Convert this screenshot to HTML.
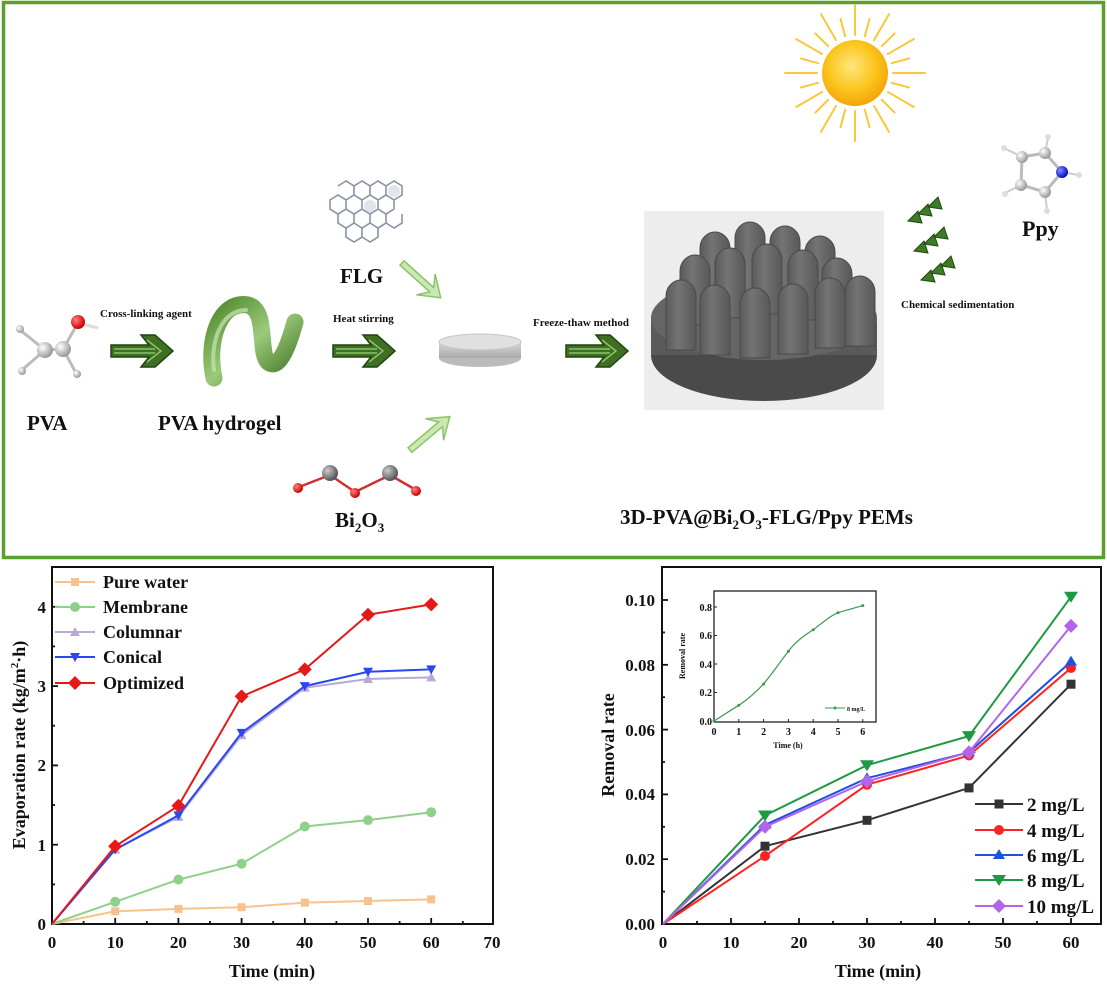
<!DOCTYPE html>
<html><head><meta charset="utf-8"><style>
html,body{margin:0;padding:0;background:#fff;}
svg{display:block;}
text{font-family:"Liberation Serif",serif;font-weight:bold;fill:#111;}
</style></head><body>
<svg width="1107" height="986" viewBox="0 0 1107 986" xmlns="http://www.w3.org/2000/svg">
<defs>
<radialGradient id="sun" cx="45%" cy="40%" r="60%"><stop offset="0" stop-color="#ffe680"/><stop offset="0.6" stop-color="#fbc51c"/><stop offset="1" stop-color="#f4a40c"/></radialGradient>
<radialGradient id="ball" cx="35%" cy="35%" r="65%"><stop offset="0" stop-color="#fff"/><stop offset="1" stop-color="#9a9a9a"/></radialGradient>
<radialGradient id="dball" cx="35%" cy="35%" r="65%"><stop offset="0" stop-color="#ccc"/><stop offset="1" stop-color="#555"/></radialGradient>
<radialGradient id="rball" cx="35%" cy="35%" r="65%"><stop offset="0" stop-color="#ff8080"/><stop offset="1" stop-color="#c00"/></radialGradient>
<radialGradient id="bball" cx="35%" cy="35%" r="65%"><stop offset="0" stop-color="#88f"/><stop offset="1" stop-color="#0010c0"/></radialGradient>
<linearGradient id="tube" x1="0" y1="0" x2="1" y2="1"><stop offset="0" stop-color="#4f8a2e"/><stop offset="0.5" stop-color="#9cc97a"/><stop offset="1" stop-color="#3f7522"/></linearGradient>
<linearGradient id="disc" x1="0" y1="0" x2="0" y2="1"><stop offset="0" stop-color="#d8d8d8"/><stop offset="1" stop-color="#aaa"/></linearGradient>
<linearGradient id="pil" x1="0" y1="0" x2="1" y2="0"><stop offset="0" stop-color="#5a5a5a"/><stop offset="0.4" stop-color="#747474"/><stop offset="1" stop-color="#585858"/></linearGradient>
<g id="garrow"><path d="M0,-6 L38,-6 L30,-16 L44,-16 L62,0 L44,16 L30,16 L38,6 L0,6 Z" fill="#3e6f22" stroke="#1f4510" stroke-width="1.5"/><path d="M3,-2 L44,-2 M3,2 L44,2 M36,-11 L50,0 L36,11" stroke="#8cc26a" stroke-width="1.5" fill="none"/></g>
<g id="larrow"><path d="M0,-3 L40,-3 L32,-14 L52,0 L32,14 L40,3 L0,3 Z" fill="#c9e8b4" stroke="#8cc26a" stroke-width="1.5"/></g>
<g id="tri"><polygon points="0,0 10,-10 14,2" fill="#3e7a28" stroke="#1f4a10" stroke-width="1"/></g>
<path id="pillar" d="M0,70 L0,16 A15,16 0 0 1 30,16 L30,70 Z" fill="url(#pil)" stroke="#4a4a4a" stroke-width="1"/>
<marker id="mSqO" markerUnits="userSpaceOnUse" markerWidth="12" markerHeight="12" refX="6" refY="6"><rect x="2" y="2" width="8" height="8" fill="#f7c38a"/></marker>
<marker id="mCiG" markerUnits="userSpaceOnUse" markerWidth="12" markerHeight="12" refX="6" refY="6"><circle cx="6" cy="6" r="5" fill="#8fd18a"/></marker>
<marker id="mTuP" markerUnits="userSpaceOnUse" markerWidth="12" markerHeight="12" refX="6" refY="6"><polygon points="6,1 11,10 1,10" fill="#b9a9d6"/></marker>
<marker id="mTdB" markerUnits="userSpaceOnUse" markerWidth="12" markerHeight="12" refX="6" refY="6"><polygon points="1,2 11,2 6,11" fill="#2b47f0"/></marker>
<marker id="mDiR" markerUnits="userSpaceOnUse" markerWidth="14" markerHeight="14" refX="7" refY="7"><polygon points="7,0 14,7 7,14 0,7" fill="#e61919"/></marker>
<marker id="mSqK" markerUnits="userSpaceOnUse" markerWidth="12" markerHeight="12" refX="6" refY="6"><rect x="1.5" y="1.5" width="9" height="9" fill="#333"/></marker>
<marker id="mCiR" markerUnits="userSpaceOnUse" markerWidth="12" markerHeight="12" refX="6" refY="6"><circle cx="6" cy="6" r="5" fill="#f22"/></marker>
<marker id="mTuB" markerUnits="userSpaceOnUse" markerWidth="12" markerHeight="12" refX="6" refY="6"><polygon points="6,0 12,10 0,10" fill="#2050e0"/></marker>
<marker id="mTdG" markerUnits="userSpaceOnUse" markerWidth="14" markerHeight="14" refX="7" refY="6"><polygon points="0,1 14,1 7,12" fill="#1e9a45"/></marker>
<marker id="mDiP" markerUnits="userSpaceOnUse" markerWidth="14" markerHeight="14" refX="7" refY="7"><polygon points="7,0 14,7 7,14 0,7" fill="#b265e8"/></marker>
<marker id="mDot" markerUnits="userSpaceOnUse" markerWidth="4" markerHeight="4" refX="2" refY="2"><circle cx="2" cy="2" r="1.5" fill="#3a9a50"/></marker>
</defs>

<rect x="3.5" y="2.5" width="1100" height="555" fill="none" stroke="#5aa02c" stroke-width="3.5"/>

<!-- sun -->
<g transform="translate(855,73)">
<g stroke="#f9c83a" stroke-width="2" stroke-linecap="round">
<line x1="0" y1="-38" x2="0" y2="-68" transform="rotate(0)"/><line x1="0" y1="-38" x2="0" y2="-56" transform="rotate(15)"/>
<line x1="0" y1="-38" x2="0" y2="-68" transform="rotate(30)"/><line x1="0" y1="-38" x2="0" y2="-56" transform="rotate(45)"/>
<line x1="0" y1="-38" x2="0" y2="-68" transform="rotate(60)"/><line x1="0" y1="-38" x2="0" y2="-56" transform="rotate(75)"/>
<line x1="0" y1="-38" x2="0" y2="-70" transform="rotate(90)"/><line x1="0" y1="-38" x2="0" y2="-56" transform="rotate(105)"/>
<line x1="0" y1="-38" x2="0" y2="-68" transform="rotate(120)"/><line x1="0" y1="-38" x2="0" y2="-56" transform="rotate(135)"/>
<line x1="0" y1="-38" x2="0" y2="-68" transform="rotate(150)"/><line x1="0" y1="-38" x2="0" y2="-56" transform="rotate(165)"/>
<line x1="0" y1="-38" x2="0" y2="-68" transform="rotate(180)"/><line x1="0" y1="-38" x2="0" y2="-56" transform="rotate(195)"/>
<line x1="0" y1="-38" x2="0" y2="-68" transform="rotate(210)"/><line x1="0" y1="-38" x2="0" y2="-56" transform="rotate(225)"/>
<line x1="0" y1="-38" x2="0" y2="-68" transform="rotate(240)"/><line x1="0" y1="-38" x2="0" y2="-56" transform="rotate(255)"/>
<line x1="0" y1="-38" x2="0" y2="-70" transform="rotate(270)"/><line x1="0" y1="-38" x2="0" y2="-56" transform="rotate(285)"/>
<line x1="0" y1="-38" x2="0" y2="-68" transform="rotate(300)"/><line x1="0" y1="-38" x2="0" y2="-56" transform="rotate(315)"/>
<line x1="0" y1="-38" x2="0" y2="-68" transform="rotate(330)"/><line x1="0" y1="-38" x2="0" y2="-56" transform="rotate(345)"/>
</g>
<circle r="33" fill="url(#sun)"/>
</g>

<!-- PVA molecule -->
<g stroke="#bbb" stroke-width="3">
<line x1="45" y1="350" x2="63" y2="349"/><line x1="45" y1="350" x2="20" y2="330"/><line x1="45" y1="350" x2="22" y2="370"/>
<line x1="63" y1="349" x2="78" y2="323"/><line x1="63" y1="349" x2="76" y2="373"/><line x1="78" y1="323" x2="98" y2="328" stroke="#ddd"/>
</g>
<circle cx="20" cy="329" r="4" fill="url(#ball)"/><circle cx="22" cy="371" r="4" fill="url(#ball)"/><circle cx="77" cy="374" r="4" fill="url(#ball)"/>
<circle cx="45" cy="350" r="8" fill="url(#ball)"/><circle cx="63" cy="349" r="8" fill="url(#ball)"/>
<circle cx="78" cy="322" r="7" fill="url(#rball)"/>
<text x="100" y="317" font-size="11">Cross-linking agent</text>
<use href="#garrow" x="111" y="351"/>
<path d="M214,378 C206,340 220,300 248,305 C268,310 258,352 268,362 C280,372 290,340 295,322" fill="none" stroke="url(#tube)" stroke-width="17" stroke-linecap="round"/>
<path d="M214,370 C210,340 222,310 246,310" fill="none" stroke="#c8e6b0" stroke-width="4" stroke-linecap="round" opacity="0.7"/>
<text x="27" y="430" font-size="21">PVA</text>
<text x="158" y="430" font-size="21">PVA hydrogel</text>

<!-- FLG -->
<g fill="none" stroke="#8a93a5" stroke-width="1.6">
<path d="M330,200 l8,-5 l8,5 l0,9 l-8,5 l-8,-5 Z M346,200 l8,-5 l8,5 l0,9 l-8,5 l-8,-5 Z M362,200 l8,-5 l8,5 l0,9 l-8,5 l-8,-5 Z M378,200 l8,-5 l8,5 l0,9 l-8,5 l-8,-5 Z"/>
<path d="M338,186 l8,-5 l8,5 l0,9 M354,186 l8,-5 l8,5 l0,9 M370,186 l8,-5 l8,5 l0,9 M386,186 l8,-5 l8,5 l0,9 l-8,5"/>
<path d="M338,214 l0,9 l8,5 l8,-5 l0,-9 M354,223 l8,5 l8,-5 l0,-9 M370,223 l8,5 l8,-5 l0,-9 M386,223 l8,5 l8,-5 l0,-9"/>
<path d="M346,228 l0,9 l8,5 l8,-5 l0,-9 M362,237 l8,5 l8,-5 l0,-9"/>
</g>
<circle cx="370" cy="206" r="6" fill="#e2e4ea"/><circle cx="394" cy="191" r="6" fill="#e2e4ea"/>
<text x="340" y="283" font-size="21">FLG</text>
<use href="#larrow" transform="translate(402,263) rotate(42)"/>
<text x="333" y="322" font-size="11">Heat stirring</text>
<use href="#garrow" x="333" y="351"/>
<ellipse cx="480" cy="358" rx="41" ry="9" fill="#bbb"/>
<rect x="439" y="342" width="82" height="16" fill="url(#disc)"/>
<ellipse cx="480" cy="342" rx="41" ry="8" fill="#e0e0e0" stroke="#c4c4c4"/>
<use href="#larrow" transform="translate(410,450) rotate(-40)"/>
<g stroke="#d03030" stroke-width="2.5"><line x1="299" y1="487" x2="330" y2="475"/><line x1="330" y1="475" x2="355" y2="492"/><line x1="355" y1="492" x2="390" y2="475"/><line x1="390" y1="475" x2="416" y2="490"/></g>
<circle cx="298" cy="488" r="5" fill="url(#rball)"/><circle cx="355" cy="493" r="5" fill="url(#rball)"/><circle cx="416" cy="491" r="5" fill="url(#rball)"/>
<circle cx="330" cy="473" r="8" fill="url(#dball)"/><circle cx="390" cy="473" r="8" fill="url(#dball)"/>
<text x="335" y="527" font-size="21">Bi<tspan font-size="13" dy="5">2</tspan><tspan dy="-5">O</tspan><tspan font-size="13" dy="5">3</tspan></text>

<text x="533" y="326" font-size="11">Freeze-thaw method</text>
<use href="#garrow" x="566" y="351"/>

<!-- 3D object -->
<rect x="644" y="211" width="240" height="199" fill="#ededed"/>
<ellipse cx="764" cy="355" rx="113" ry="46" fill="#4a4a4a"/>
<rect x="651" y="318" width="226" height="37" fill="#5a5a5a"/>
<ellipse cx="764" cy="318" rx="113" ry="42" fill="#656565"/>
<use href="#pillar" x="700" y="232"/><use href="#pillar" x="735" y="222"/><use href="#pillar" x="770" y="226"/><use href="#pillar" x="805" y="236"/>
<use href="#pillar" x="680" y="255"/><use href="#pillar" x="715" y="248"/><use href="#pillar" x="752" y="244"/><use href="#pillar" x="788" y="250"/><use href="#pillar" x="822" y="258"/>
<use href="#pillar" x="666" y="280"/><use href="#pillar" x="700" y="285"/><use href="#pillar" x="740" y="288"/><use href="#pillar" x="778" y="284"/><use href="#pillar" x="815" y="278"/><use href="#pillar" x="845" y="276"/>

<use href="#tri" x="908" y="221"/><use href="#tri" x="918" y="214"/><use href="#tri" x="928" y="207"/>
<use href="#tri" x="914" y="251"/><use href="#tri" x="924" y="244"/><use href="#tri" x="934" y="237"/>
<use href="#tri" x="921" y="280"/><use href="#tri" x="931" y="273"/><use href="#tri" x="941" y="266"/>
<text x="901" y="308" font-size="11">Chemical sedimentation</text>
<g stroke="#bbb" stroke-width="3" fill="none"><path d="M1022,157 L1045,153 L1062,172 L1045,192 L1021,185 Z"/></g>
<g stroke="#ccc" stroke-width="2"><line x1="1022" y1="157" x2="1004" y2="148"/><line x1="1045" y1="153" x2="1048" y2="138"/><line x1="1021" y1="185" x2="1005" y2="193"/><line x1="1045" y1="192" x2="1047" y2="210"/><line x1="1062" y1="172" x2="1078" y2="175"/></g>
<circle cx="1022" cy="157" r="6" fill="url(#ball)"/><circle cx="1045" cy="153" r="6" fill="url(#ball)"/><circle cx="1021" cy="185" r="6" fill="url(#ball)"/><circle cx="1045" cy="192" r="6" fill="url(#ball)"/>
<circle cx="1062" cy="172" r="6" fill="url(#bball)"/>
<circle cx="1004" cy="148" r="3" fill="#ddd"/><circle cx="1048" cy="137" r="3" fill="#ddd"/><circle cx="1005" cy="194" r="3" fill="#ddd"/><circle cx="1047" cy="211" r="3" fill="#ddd"/><circle cx="1079" cy="175" r="3" fill="#ddd"/>
<text x="1022" y="236" font-size="22">Ppy</text>
<text x="620" y="524" font-size="21">3D-PVA@Bi<tspan font-size="13" dy="5">2</tspan><tspan dy="-5">O</tspan><tspan font-size="13" dy="5">3</tspan><tspan dy="-5">-FLG/Ppy PEMs</tspan></text>

<!-- LEFT CHART -->
<rect x="52" y="567" width="441" height="357" fill="none" stroke="#111" stroke-width="2"/>
<g stroke="#111" stroke-width="1.8">
<line x1="52" y1="924" x2="52" y2="918"/><line x1="115.2" y1="924" x2="115.2" y2="918"/><line x1="178.4" y1="924" x2="178.4" y2="918"/><line x1="241.6" y1="924" x2="241.6" y2="918"/><line x1="304.8" y1="924" x2="304.8" y2="918"/><line x1="368" y1="924" x2="368" y2="918"/><line x1="431.2" y1="924" x2="431.2" y2="918"/>
<line x1="83.6" y1="924" x2="83.6" y2="921"/><line x1="146.8" y1="924" x2="146.8" y2="921"/><line x1="210" y1="924" x2="210" y2="921"/><line x1="273.2" y1="924" x2="273.2" y2="921"/><line x1="336.4" y1="924" x2="336.4" y2="921"/><line x1="399.6" y1="924" x2="399.6" y2="921"/><line x1="462.8" y1="924" x2="462.8" y2="921"/>
<line x1="52" y1="844.7" x2="58" y2="844.7"/><line x1="52" y1="765.4" x2="58" y2="765.4"/><line x1="52" y1="686.1" x2="58" y2="686.1"/><line x1="52" y1="606.8" x2="58" y2="606.8"/>
<line x1="52" y1="884.4" x2="55" y2="884.4"/><line x1="52" y1="805" x2="55" y2="805"/><line x1="52" y1="725.7" x2="55" y2="725.7"/><line x1="52" y1="646.4" x2="55" y2="646.4"/>
</g>
<g font-size="17" text-anchor="middle">
<text x="52" y="948">0</text><text x="115.2" y="948">10</text><text x="178.4" y="948">20</text><text x="241.6" y="948">30</text><text x="304.8" y="948">40</text><text x="368" y="948">50</text><text x="431.2" y="948">60</text><text x="492" y="948">70</text>
</g>
<g font-size="17" text-anchor="end">
<text x="46" y="930">0</text><text x="46" y="851">1</text><text x="46" y="771">2</text><text x="46" y="692">3</text><text x="46" y="613">4</text>
</g>
<text x="272" y="977" font-size="18" text-anchor="middle">Time (min)</text>
<text transform="translate(25,745) rotate(-90)" font-size="18" text-anchor="middle">Evaporation rate (kg/m<tspan font-size="11" dy="-7">2</tspan><tspan dy="7">·h)</tspan></text>
<g fill="none" stroke-width="2">
<polyline stroke="#f7c38a" marker-mid="url(#mSqO)" marker-end="url(#mSqO)" points="52,924 115.2,911.3 178.4,908.9 241.6,907.3 304.8,902.6 368,901 431.2,899.4"/>
<polyline stroke="#8fd18a" marker-mid="url(#mCiG)" marker-end="url(#mCiG)" points="52,924 115.2,901.8 178.4,879.6 241.6,863.7 304.8,826.5 368,820.1 431.2,812.2"/>
<polyline stroke="#b9a9d6" marker-mid="url(#mTuP)" marker-end="url(#mTuP)" points="52,924 115.2,849.5 178.4,816.9 241.6,735.3 304.8,687.7 368,679 431.2,677.4"/>
<polyline stroke="#2b47f0" marker-mid="url(#mTdB)" marker-end="url(#mTdB)" points="52,924 115.2,849.5 178.4,815.4 241.6,732.9 304.8,686.1 368,671.8 431.2,669.4"/>
<polyline stroke="#e61919" marker-mid="url(#mDiR)" marker-end="url(#mDiR)" points="52,924 115.2,846.3 178.4,805.8 241.6,696.4 304.8,669.4 368,614.7 431.2,604.4"/>
<polyline stroke="#f7c38a" marker-mid="url(#mSqO)" points="55,582 75,582 95,582"/>
<polyline stroke="#8fd18a" marker-mid="url(#mCiG)" points="55,607 75,607 95,607"/>
<polyline stroke="#b9a9d6" marker-mid="url(#mTuP)" points="55,632 75,632 95,632"/>
<polyline stroke="#2b47f0" marker-mid="url(#mTdB)" points="55,657 75,657 95,657"/>
<polyline stroke="#e61919" marker-mid="url(#mDiR)" points="55,683 75,683 95,683"/>
</g>
<g font-size="18">
<text x="103" y="588">Pure water</text><text x="103" y="613">Membrane</text><text x="103" y="638">Columnar</text><text x="103" y="663">Conical</text><text x="103" y="689">Optimized</text>
</g>

<!-- RIGHT CHART -->
<rect x="662" y="567" width="439" height="357" fill="none" stroke="#111" stroke-width="2"/>
<g stroke="#111" stroke-width="1.8">
<line x1="731" y1="924" x2="731" y2="918"/><line x1="799" y1="924" x2="799" y2="918"/><line x1="867" y1="924" x2="867" y2="918"/><line x1="935" y1="924" x2="935" y2="918"/><line x1="1003" y1="924" x2="1003" y2="918"/><line x1="1071" y1="924" x2="1071" y2="918"/>
<line x1="697" y1="924" x2="697" y2="921"/><line x1="765" y1="924" x2="765" y2="921"/><line x1="833" y1="924" x2="833" y2="921"/><line x1="901" y1="924" x2="901" y2="921"/><line x1="969" y1="924" x2="969" y2="921"/><line x1="1037" y1="924" x2="1037" y2="921"/>
<line x1="662" y1="859.2" x2="668" y2="859.2"/><line x1="662" y1="794.4" x2="668" y2="794.4"/><line x1="662" y1="729.6" x2="668" y2="729.6"/><line x1="662" y1="664.8" x2="668" y2="664.8"/><line x1="662" y1="600" x2="668" y2="600"/>
<line x1="662" y1="891.6" x2="665" y2="891.6"/><line x1="662" y1="826.8" x2="665" y2="826.8"/><line x1="662" y1="762" x2="665" y2="762"/><line x1="662" y1="697.2" x2="665" y2="697.2"/><line x1="662" y1="632.4" x2="665" y2="632.4"/>
</g>
<g font-size="17" text-anchor="middle">
<text x="663" y="948">0</text><text x="731" y="948">10</text><text x="799" y="948">20</text><text x="867" y="948">30</text><text x="935" y="948">40</text><text x="1003" y="948">50</text><text x="1071" y="948">60</text>
</g>
<g font-size="17" text-anchor="end">
<text x="655" y="930">0.00</text><text x="655" y="865">0.02</text><text x="655" y="800">0.04</text><text x="655" y="736">0.06</text><text x="655" y="671">0.08</text><text x="655" y="606">0.10</text>
</g>
<text x="878" y="977" font-size="18" text-anchor="middle">Time (min)</text>
<text transform="translate(614,745) rotate(-90)" font-size="18" text-anchor="middle">Removal rate</text>
<g fill="none" stroke-width="2">
<polyline stroke="#333" marker-mid="url(#mSqK)" marker-end="url(#mSqK)" points="663,924 765,846.2 867,820.3 969,787.9 1071,684.2"/>
<polyline stroke="#f22" marker-mid="url(#mCiR)" marker-end="url(#mCiR)" points="663,924 765,856 867,784.7 969,755.5 1071,668"/>
<polyline stroke="#2050e0" marker-mid="url(#mTuB)" marker-end="url(#mTuB)" points="663,924 765,825 867,778.2 969,752.3 1071,661.6"/>
<polyline stroke="#1e9a45" marker-mid="url(#mTdG)" marker-end="url(#mTdG)" points="663,924 765,815.5 867,765.2 969,736.1 1071,596.8"/>
<polyline stroke="#b265e8" marker-mid="url(#mDiP)" marker-end="url(#mDiP)" points="663,924 765,826.8 867,781.4 969,752.3 1071,625.9"/>
<polyline stroke="#333" marker-mid="url(#mSqK)" points="975,804 999,804 1023,804"/>
<polyline stroke="#f22" marker-mid="url(#mCiR)" points="975,830 999,830 1023,830"/>
<polyline stroke="#2050e0" marker-mid="url(#mTuB)" points="975,855 999,855 1023,855"/>
<polyline stroke="#1e9a45" marker-mid="url(#mTdG)" points="975,880 999,880 1023,880"/>
<polyline stroke="#b265e8" marker-mid="url(#mDiP)" points="975,906 999,906 1023,906"/>
</g>
<g font-size="19">
<text x="1027" y="811">2 mg/L</text><text x="1027" y="837">4 mg/L</text><text x="1027" y="862">6 mg/L</text><text x="1027" y="887">8 mg/L</text><text x="1027" y="913">10 mg/L</text>
</g>

<!-- inset -->
<rect x="714" y="591" width="162" height="131" fill="#fff" stroke="#222" stroke-width="1.3"/>
<g stroke="#222" stroke-width="1">
<line x1="738.8" y1="722" x2="738.8" y2="719"/><line x1="763.6" y1="722" x2="763.6" y2="719"/><line x1="788.4" y1="722" x2="788.4" y2="719"/><line x1="813.2" y1="722" x2="813.2" y2="719"/><line x1="838" y1="722" x2="838" y2="719"/><line x1="862.8" y1="722" x2="862.8" y2="719"/>
<line x1="714" y1="692.5" x2="717" y2="692.5"/><line x1="714" y1="664" x2="717" y2="664"/><line x1="714" y1="635.5" x2="717" y2="635.5"/><line x1="714" y1="607" x2="717" y2="607"/>
</g>
<path d="M714,721 C722,716 731,710 738.8,705.3 C747,700 756,692 763.6,684 C772,674 780,662 788.4,651.2 C796,641 805,635 813.2,629.8 C822,623 830,616 838,612.7 C846,610 855,608 862.8,605.6" fill="none" stroke="#3a9a50" stroke-width="1.2"/>
<polyline fill="none" stroke="none" marker-start="url(#mDot)" marker-mid="url(#mDot)" marker-end="url(#mDot)" points="714,721 738.8,705.3 763.6,684 788.4,651.2 813.2,629.8 838,612.7 862.8,605.6"/>
<g font-size="10" text-anchor="middle">
<text x="714" y="735">0</text><text x="738.8" y="735">1</text><text x="763.6" y="735">2</text><text x="788.4" y="735">3</text><text x="813.2" y="735">4</text><text x="838" y="735">5</text><text x="862.8" y="735">6</text>
</g>
<g font-size="10" text-anchor="end">
<text x="712" y="725">0.0</text><text x="712" y="696">0.2</text><text x="712" y="668">0.4</text><text x="712" y="639">0.6</text><text x="712" y="611">0.8</text>
</g>
<text x="788" y="748" font-size="8" text-anchor="middle">Time (h)</text>
<text transform="translate(685,656) rotate(-90)" font-size="8" text-anchor="middle">Removal rate</text>
<line x1="825" y1="708" x2="845" y2="708" stroke="#3a9a50" stroke-width="1"/><circle cx="835" cy="708" r="1.5" fill="#3a9a50"/>
<text x="847" y="711" font-size="6">8 mg/L</text>
</svg>
</body></html>
